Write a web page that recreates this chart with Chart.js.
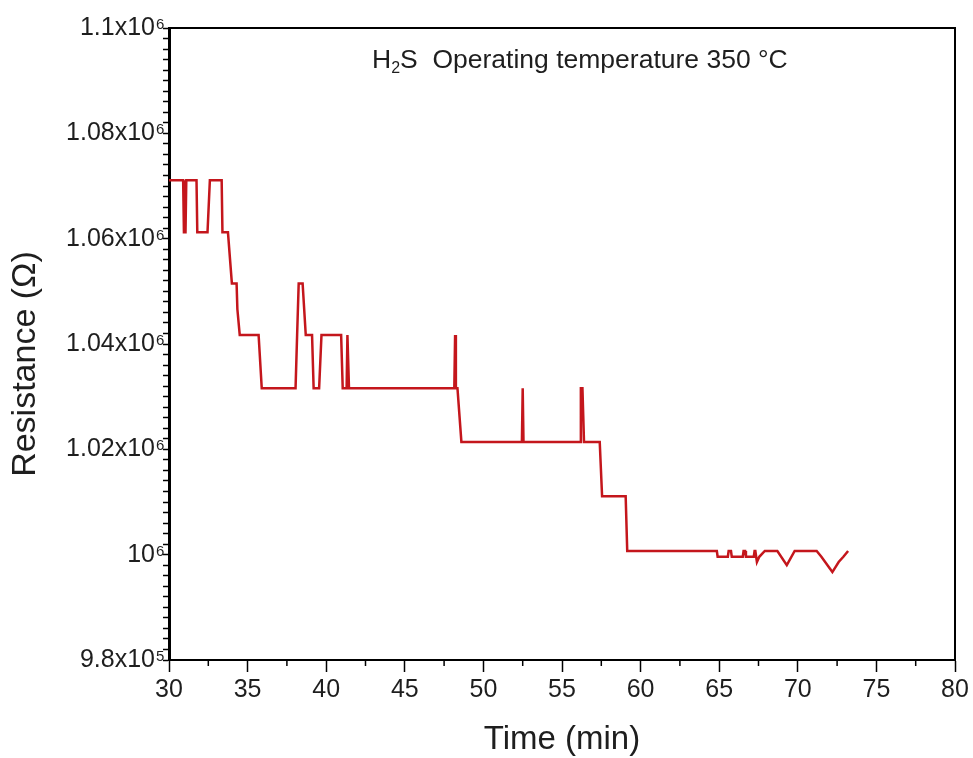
<!DOCTYPE html>
<html>
<head>
<meta charset="utf-8">
<script src="https://cdn.jsdelivr.net/npm/chart.js@4"></script>
<style>
  html, body { margin: 0; background: #fff; }
  #wrap { width: 973px; height: 758px; }
</style>
</head>
<body>
<div id="wrap"><canvas id="chart"></canvas></div>
<script>
// time (min) and resistance (ohm)
const timeMin = [
  30.0, 30.9, 30.95, 31.05, 31.1, 31.75, 31.8, 32.45, 32.6, 33.35,
  33.4, 33.75, 34.0, 34.3, 34.35, 34.5, 35.7, 35.9, 38.05, 38.15,
  38.25, 38.5, 38.7, 39.1, 39.2, 39.55, 39.7, 40.95, 41.05, 41.3,
  41.35, 41.45, 48.15, 48.2, 48.25, 48.35, 48.6, 52.45, 52.5, 52.55,
  56.15, 56.2, 56.3, 56.35, 56.4, 57.4, 57.55, 59.05, 59.15, 64.85,
  64.9, 65.55, 65.6, 65.75, 65.8, 66.5, 66.55, 66.65, 66.7, 67.2,
  67.25, 67.3, 67.4, 67.55, 67.9, 68.7, 69.3, 69.8, 71.2, 71.5,
  72.2, 72.6, 72.9, 73.2
];
const resistance = [
  1071100, 1071100, 1061200, 1061200, 1071100, 1071100, 1061200, 1061200, 1071100, 1071100,
  1061200, 1061200, 1051500, 1051500, 1046600, 1041700, 1041700, 1031600, 1031600, 1041700,
  1051500, 1051500, 1041700, 1041700, 1031600, 1031600, 1041700, 1041700, 1031600, 1031600,
  1041700, 1031600, 1031600, 1041700, 1031600, 1031600, 1021400, 1021400, 1031600, 1021400,
  1021400, 1031600, 1031600, 1026500, 1021400, 1021400, 1011100, 1011100, 1000700, 1000700,
  999600, 999600, 1000700, 1000700, 999600, 999600, 1000700, 1000700, 999600, 999600,
  1000700, 1000700, 998600, 999600, 1000700, 1000700, 998000, 1000700, 1000700, 999600,
  996700, 998600, 999600, 1000700
];

const yLabelValues = [980000, 1000000, 1020000, 1040000, 1060000, 1080000, 1100000];
const yLabelBase = ['9.8x10', '10', '1.02x10', '1.04x10', '1.06x10', '1.08x10', '1.1x10'];
const yLabelExp = ['5', '6', '6', '6', '6', '6', '6'];

const FONT = '"Liberation Sans", Arial, sans-serif';
const INK = '#1e1e1e';

// frame, minor x ticks, exponents, inset title and y axis title
const decor = {
  id: 'decor',
  afterDraw(chart) {
    const { ctx, chartArea: a, scales: { x, y } } = chart;
    ctx.save();
    ctx.strokeStyle = '#000';
    ctx.lineWidth = 2;
    ctx.beginPath();
    ctx.moveTo(a.left, a.top);
    ctx.lineTo(a.right, a.top);
    ctx.lineTo(a.right, a.bottom);
    ctx.stroke();

    ctx.lineWidth = 1.5;
    x.ticks.forEach(t => {
      if (t.value % 5 === 0) return;
      const px = x.getPixelForValue(t.value);
      ctx.beginPath();
      ctx.moveTo(px, a.bottom);
      ctx.lineTo(px, a.bottom + 6);
      ctx.stroke();
    });

    ctx.fillStyle = INK;
    ctx.font = `15px ${FONT}`;
    ctx.textAlign = 'left';
    ctx.textBaseline = 'alphabetic';
    yLabelValues.forEach((v, i) => {
      ctx.fillText(yLabelExp[i], a.left - 13, y.getPixelForValue(v) + 1);
    });

    // H2S  Operating temperature 350 °C
    let tx = 372;
    const ty = 68;
    ctx.font = `26.5px ${FONT}`;
    ctx.fillText('H', tx, ty);
    tx += ctx.measureText('H').width;
    ctx.font = `16px ${FONT}`;
    ctx.fillText('2', tx, ty + 5);
    tx += ctx.measureText('2').width;
    ctx.font = `26.5px ${FONT}`;
    ctx.fillText('S  Operating temperature 350 \u00B0C', tx, ty);

    ctx.translate(26, 364);
    ctx.rotate(-Math.PI / 2);
    ctx.font = `34px ${FONT}`;
    ctx.textAlign = 'center';
    ctx.textBaseline = 'middle';
    ctx.fillText('Resistance (\u03A9)', 0, 0);
    ctx.restore();
  }
};

new Chart(document.getElementById('chart'), {
  type: 'line',
  data: {
    datasets: [{
      data: timeMin.map((t, i) => ({ x: t, y: resistance[i] })),
      borderColor: '#c4161c',
      borderWidth: 2.5,
      pointRadius: 0,
      tension: 0,
      fill: false
    }]
  },
  options: {
    responsive: true,
    maintainAspectRatio: false,
    animation: false,
    layout: { padding: { left: 0, top: 28, right: 18, bottom: 0 } },
    plugins: { legend: { display: false }, tooltip: { enabled: false } },
    scales: {
      x: {
        type: 'linear',
        min: 30,
        max: 80,
        afterFit: s => { s.height = 98; },
        ticks: {
          stepSize: 2.5,
          autoSkip: false,
          maxRotation: 0,
          padding: 3,
          color: INK,
          font: { family: FONT, size: 25 },
          callback: v => (v % 5 === 0 ? v : '')
        },
        grid: {
          drawOnChartArea: false,
          tickLength: 12,
          tickWidth: 1.5,
          tickColor: c => (c.tick && c.tick.value % 5 === 0 ? '#000' : 'rgba(0,0,0,0)')
        },
        border: { color: '#000', width: 2 },
        title: {
          display: true,
          text: 'Time (min)',
          color: INK,
          font: { family: FONT, size: 33, lineHeight: 1 },
          padding: { top: 0, bottom: 2 }
        }
      },
      y: {
        type: 'linear',
        min: 980000,
        max: 1100000,
        afterFit: s => { s.width = 169; },
        ticks: {
          stepSize: 2000,
          maxTicksLimit: 100,
          autoSkip: false,
          padding: 8,
          color: INK,
          font: { family: FONT, size: 25 },
          callback: v => {
            const i = yLabelValues.indexOf(Math.round(v));
            return i >= 0 ? yLabelBase[i] : '';
          }
        },
        grid: { drawOnChartArea: false, tickLength: 6, tickWidth: 1.5, tickColor: '#000' },
        border: { color: '#000', width: 3 }
      }
    }
  },
  plugins: [decor]
});
</script>
</body>
</html>
